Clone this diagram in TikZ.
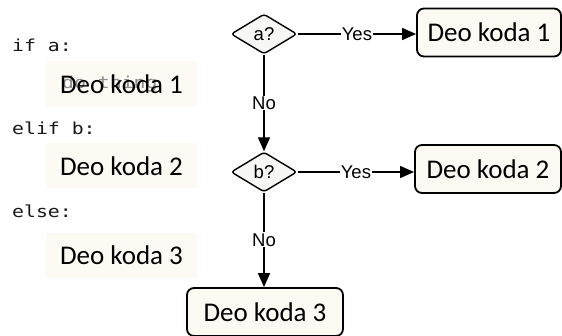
\documentclass[tikz,border=0pt]{standalone}
\usepackage{fontspec}
\setmainfont{Carlito}
\newfontfamily\labelfont{Liberation Sans}
\newfontfamily\codefont[FakeStretch=1.2]{DejaVu Sans Mono}
\usetikzlibrary{shapes.geometric,arrows.meta}

\definecolor{cream}{HTML}{FCFAF3}
\definecolor{diafill}{HTML}{F7F7F5}

\begin{document}
\begin{tikzpicture}[x=1pt,y=1pt,
  codeline/.style={anchor=west, inner sep=0pt, text=black!90,
    font=\codefont\fontsize{16.5}{16.5}\selectfont},
  codebox/.style={fill=cream, minimum width=151pt, minimum height=45pt,
    font=\fontsize{27}{27}\selectfont},
  decision/.style={diamond, draw, line width=1.4pt, rounded corners=3pt,
    fill=diafill, inner sep=0pt, minimum width=66pt, minimum height=40pt,
    font=\labelfont\fontsize{18.5}{18.5}\selectfont},
  result/.style={draw, line width=1.8pt, rounded corners=7pt, fill=cream,
    minimum height=48pt, font=\fontsize{27}{27}\selectfont},
  flow/.style={line width=1.4pt, -{Triangle[length=14pt,width=12pt]}},
  answer/.style={fill=white, inner sep=1pt,
    font=\labelfont\fontsize{18.5}{18.5}\selectfont}]

% Frame of the picture
\useasboundingbox (0,0) rectangle (562,-336);

% Code on the left
\node[codeline] (ifa)   at (12,-45)  {if a:};
\node[codeline] (elifb) at (12,-128) {elif b:};
\node[codeline] (els)   at (12,-211) {else:};

\node[codebox] (code1) at (121.5,-84) {};
\node[codeline, text=black!45] (ghost) at (62,-84) {do thing};
\node[font=\fontsize{27}{27}\selectfont] at (code1) {Deo koda 1};
\node[codebox] (code2) at (121.5,-166) {Deo koda 2};
\node[codebox] (code3) at (121.5,-255.5) {Deo koda 3};

% Decisions
\node[decision] (qa) at (264,-34)  {a?};
\node[decision] (qb) at (264,-172) {b?};

% Results
\node[result, minimum width=144pt] (res1) at (489,-32.5) {Deo koda 1};
\node[result, minimum width=146pt] (res2) at (488,-169)  {Deo koda 2};
\node[result, minimum width=156pt] (res3) at (265,-312)  {Deo koda 3};

% Connectors
\draw[flow] (qa.east) -- (qa.east -| res1.west)
  node[answer, midway] {Yes};
\draw[flow] (qb.east) -- (qb.east -| res2.west)
  node[answer, midway] {Yes};
\draw[flow] (qa.south) -- (qb.north)
  node[answer, midway] {No};
\draw[flow] (qb.south) -- (qb.south |- res3.north)
  node[answer, midway] {No};

\end{tikzpicture}
\end{document}
